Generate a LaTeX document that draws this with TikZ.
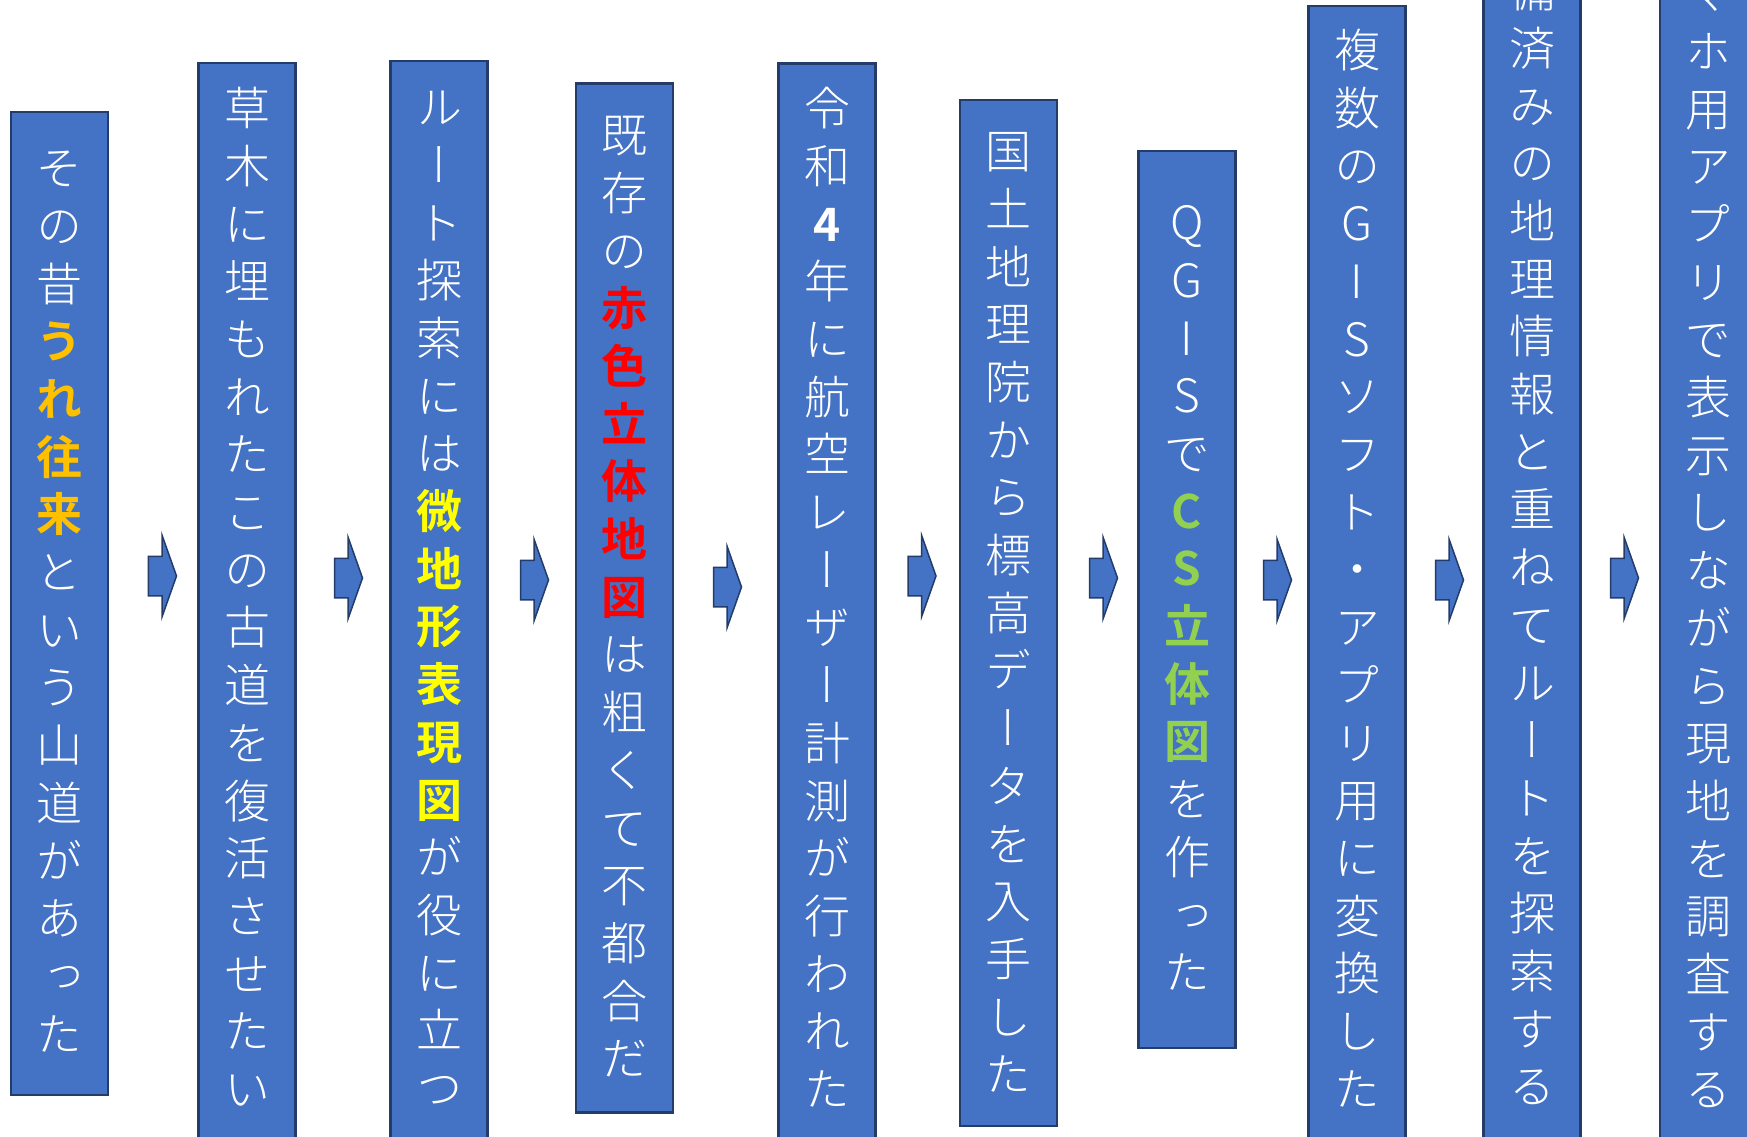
\documentclass[tikz,border=0pt]{standalone}
\usepackage{fontspec}
\usetikzlibrary{shapes.arrows}
\IfFontExistsTF{Noto Sans CJK JP Light}
  {\newfontfamily\jp[RawFeature=+vert, BoldFont={Noto Sans CJK JP Bold}]{Noto Sans CJK JP Light}}
  {\newfontfamily\jp[RawFeature=+vert]{Noto Sans CJK JP}}

\definecolor{boxblue}{HTML}{4472C4}
\definecolor{boxline}{HTML}{233C6A}
\definecolor{uorange}{HTML}{FFC000}
\definecolor{uyellow}{HTML}{FFFF00}
\definecolor{ured}{HTML}{FF0000}
\definecolor{ugreen}{HTML}{92D050}

% one character per line
\newcommand\tate[1]{\tatestep#1\relax}
\def\tatestep#1{\ifx#1\relax\else#1\rule[-0.12em]{0pt}{1em}\par\expandafter\tatestep\fi}

\begin{document}
\begin{tikzpicture}[
      x=1pt, y=-1pt,
      box/.style={draw=boxline, line width=2.5pt, fill=boxblue,
        minimum width=97pt, inner sep=0pt},
      tatetext/.style={anchor=north, text=white, text width=70pt,
        align=center, inner sep=0pt, font=\jp\fontsize{46}{57.7}\selectfont},
      next/.style={single arrow, draw=boxline, line width=1.5pt, fill=boxblue,
        minimum height=28pt, inner xsep=0pt, inner ysep=19pt,
        single arrow head extend=21pt, single arrow tip angle=141}
      ]
  \useasboundingbox (0,0) rectangle (1747,1137);
  \clip (0,0) rectangle (1747,1137);

  \node[box, minimum height=983pt]  (b1)  at (59.5,603.5) {};
  \node[box, minimum height=1097pt] (b2)  at (247,611.5) {};
  \node[box, minimum height=1099pt] (b3)  at (439,610.5) {};
  \node[box, minimum height=1029pt] (b4)  at (624.5,598) {};
  \node[box, minimum height=1097pt] (b5)  at (827,612) {};
  \node[box, minimum height=1026pt] (b6)  at (1008.5,613) {};
  \node[box, minimum height=897pt]  (b7)  at (1187,599.5) {};
  \node[box, minimum height=1154pt] (b8)  at (1357,583) {};
  \node[box, minimum height=1180pt] (b9)  at (1532,570) {};
  \node[box, minimum height=1180pt] (b10) at (1708.5,570) {};

  \node[tatetext] (t1) at (59.5,145)
    {\tate{その昔}{\color{uorange}\bfseries\tate{うれ往来}}\tate{という山道があった}};
  \node[tatetext] (t2) at (247,85) {\tate{草木に埋もれたこの古道を復活させたい}};
  \node[tatetext] (t3) at (439,84)
    {\tate{ルート探索には}{\color{uyellow}\bfseries\tate{微地形表現図}}\tate{が役に立つ}};
  \node[tatetext] (t4) at (624.5,112)
    {\tate{既存の}{\color{ured}\bfseries\tate{赤色立体地図}}\tate{は粗くて不都合だ}};
  \node[tatetext] (t5) at (827,85)
    {\tate{令和}{\bfseries\tate{4}}\tate{年に航空レーザー計測が行われた}};
  \node[tatetext] (t6) at (1008.5,128) {\tate{国土地理院から標高データを入手した}};
  \node[tatetext] (t7) at (1187,199)
    {\tate{QGISで}{\color{ugreen}\bfseries\tate{CS立体図}}\tate{を作った}};
  \node[tatetext] (t8) at (1357,27) {\tate{複数のGISソフト・アプリ用に変換した}};
  \node[tatetext] (t9) at (1532,-33) {\tate{備済みの地理情報と重ねてルートを探索する}};
  \node[tatetext] (t10) at (1708.5,-30) {\tate{マホ用アプリで表示しながら現地を調査する}};

  % arrows between the steps
  \node[next] (a1) at (159,576) {};
  \node[next] (a2) at (345,578) {};
  \node[next] (a3) at (531,580) {};
  \node[next] (a4) at (724,587) {};
  \node[next] (a5) at (918.5,576) {};
  \node[next] (a6) at (1100,578) {};
  \node[next] (a7) at (1274,580) {};
  \node[next] (a8) at (1446,580) {};
  \node[next] (a9) at (1621,578) {};

\end{tikzpicture}
\end{document}
